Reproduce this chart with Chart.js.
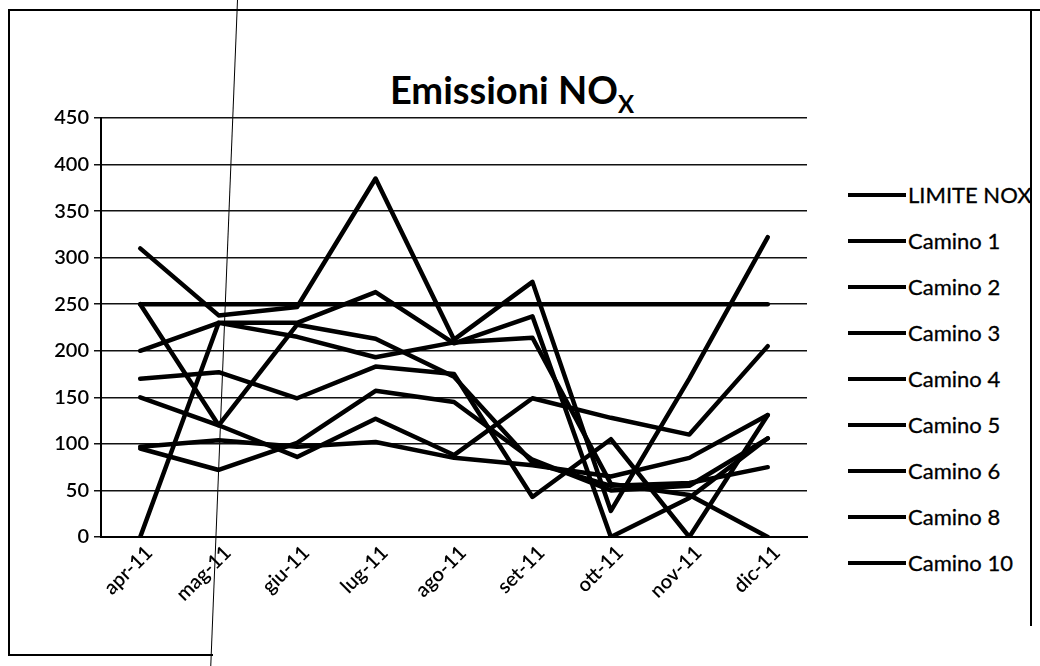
<!DOCTYPE html>
<html>
<head>
<meta charset="utf-8">
<script src="https://cdn.jsdelivr.net/npm/chart.js@4.4.1/dist/chart.umd.min.js"></script>
<style>
  html, body { margin: 0; padding: 0; background: #fff; }
  body { width: 1040px; height: 666px; position: relative; overflow: hidden; font-family: Lato, "Open Sans", sans-serif; color: #000; }
  #wrap { position: absolute; left: 0; top: 0; width: 830px; height: 666px; }
  #title { position: absolute; left: 0; width: 1024px; top: 66px; text-align: center; font-weight: 700; font-size: 38px; line-height: 46px; }
  #title sub { font-size: 24px; vertical-align: -9px; }
  #legend { position: absolute; left: 848px; top: 0; }
  .item { position: absolute; left: 0; height: 30px; width: 190px; }
  .item .swatch { position: absolute; left: 0; top: 13px; width: 58px; height: 4px; background: #000; }
  .item .txt { position: absolute; left: 60px; top: 0; font-size: 22px; line-height: 30px; white-space: nowrap; -webkit-text-stroke: 0.3px #000; }
  .rule { position: absolute; background: #000; }
</style>
</head>
<body>
<div class="rule" style="left:8px;top:9px;width:1032px;height:2px;"></div>
<div class="rule" style="left:8px;top:9px;width:2px;height:647px;"></div>
<div class="rule" style="left:8px;top:654px;width:205px;height:2px;"></div>
<div class="rule" style="left:1030px;top:9px;width:2px;height:617px;"></div>
<div class="rule" style="left:222px;top:0;width:1.4px;height:668px;transform-origin:0 0;transform:translateX(15px) rotate(2.3deg);"></div>

<div id="title">Emissioni NO<sub>X</sub></div>
<div id="wrap"><canvas id="c"></canvas></div>
<div id="legend"></div>

<script>
// Months of the monitoring period
const months = ['apr-11', 'mag-11', 'giu-11', 'lug-11', 'ago-11', 'set-11', 'ott-11', 'nov-11', 'dic-11'];

// Y axis range and step (mg/Nm3)
const yMin = 0;
const yMax = 450;
const yStep = 50;

// NOx emission limit
const limiteNox = [250, 250, 250, 250, 250, 250, 250, 250, 250];

// Monthly NOx values for each stack
const camino1  = [310, 238, 247, 385, 212, 274, 28, 170, 322];
const camino2  = [200, 230, 230, 263, 208, 237, 0, 42, 106];
const camino3  = [0, 230, 215, 193, 209, 214, 57, 45, 0];
const camino4  = [170, 177, 149, 183, 175, 43, 105, 0, 131];
const camino5  = [250, 120, 228, 213, 172, 80, 55, 58, 75];
const camino6  = [150, 120, 86, 127, 88, 149, 128, 110, 205];
const camino8  = [97, 104, 97, 102, 85, 77, 65, 85, 131];
const camino10 = [95, 72, 101, 157, 145, 83, 50, 55, 106];

const seriesNames = ['LIMITE NOX', 'Camino 1', 'Camino 2', 'Camino 3', 'Camino 4', 'Camino 5', 'Camino 6', 'Camino 8', 'Camino 10'];
const seriesValues = [limiteNox, camino1, camino2, camino3, camino4, camino5, camino6, camino8, camino10];

const FONT = 'Lato';
const INK = '#000';

const datasets = seriesNames.map((name, i) => ({
  label: name,
  data: seriesValues[i],
  borderColor: INK,
  backgroundColor: INK,
  borderWidth: 4.5,
  pointRadius: 0,
  pointHoverRadius: 0,
  tension: 0,
  borderJoinStyle: 'round',
  borderCapStyle: 'round',
  fill: false
}));

new Chart(document.getElementById('c'), {
  type: 'line',
  data: { labels: months, datasets },
  options: {
    responsive: true,
    maintainAspectRatio: false,
    animation: false,
    events: [],
    layout: { padding: { top: 118, right: 23, bottom: 0, left: 0 } },
    plugins: {
      legend: { display: false },
      title: { display: false },
      tooltip: { enabled: false }
    },
    scales: {
      x: {
        offset: true,
        grid: { display: false, drawTicks: false },
        border: { display: true, color: INK, width: 2 },
        ticks: {
          color: INK,
          font: { family: FONT, size: 20, weight: '600' },
          minRotation: 45,
          maxRotation: 45,
          padding: 4,
          labelOffset: 9,
          autoSkip: false
        },
        afterFit: s => { s.height = 129; }
      },
      y: {
        min: yMin,
        max: yMax,
        grid: { color: '#111', lineWidth: 1.5, drawTicks: true, tickLength: 7 },
        border: { display: true, color: INK, width: 2 },
        ticks: {
          stepSize: yStep,
          color: INK,
          font: { family: FONT, size: 20, weight: '600' },
          padding: 5
        },
        afterFit: s => { s.width = 101; }
      }
    }
  }
});

// Legend built from the same series list
const legend = document.getElementById('legend');
seriesNames.forEach((name, i) => {
  const item = document.createElement('div');
  item.className = 'item';
  item.style.top = (180 + i * 46) + 'px';
  const sw = document.createElement('div');
  sw.className = 'swatch';
  const t = document.createElement('div');
  t.className = 'txt';
  t.textContent = name;
  item.appendChild(sw);
  item.appendChild(t);
  legend.appendChild(item);
});
</script>
</body>
</html>
